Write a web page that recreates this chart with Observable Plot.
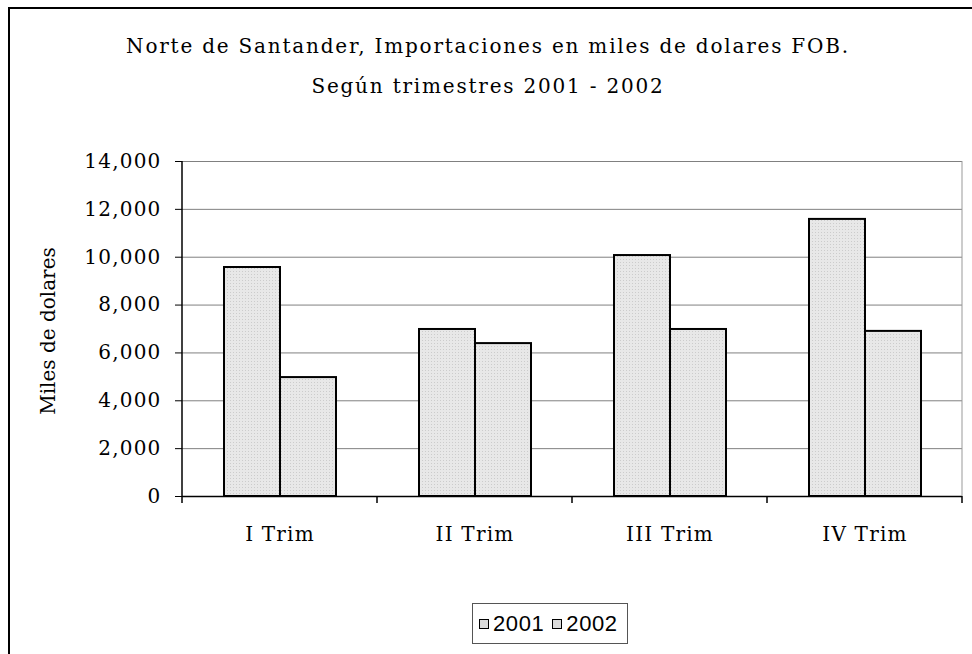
<!DOCTYPE html>
<html><head><meta charset="utf-8">
<script src="https://cdn.jsdelivr.net/npm/d3@7"></script>
<script src="https://cdn.jsdelivr.net/npm/@observablehq/plot@0.6"></script>
<style>
html,body{margin:0;padding:0;background:#fff;overflow:hidden;width:972px;height:654px}
#wrap{position:relative;width:972px;height:654px;overflow:hidden}
#border{position:absolute;left:8px;top:7px;width:1000px;height:700px;border-left:2px solid #000;border-top:2px solid #000}
.title{position:absolute;left:0;width:976px;text-align:center;font-family:"DejaVu Serif";font-size:20px;color:#000;white-space:nowrap;letter-spacing:1.8px}
#chart{position:absolute;left:0;top:0}
#ylabel{position:absolute;left:48px;top:331px;transform:translate(-50%,-50%) rotate(-90deg);font-family:"DejaVu Serif";font-size:20px;white-space:nowrap}
#legend{position:absolute;left:472px;top:603px;width:156px;height:41px;border:1px solid #555;box-sizing:border-box;display:flex;align-items:center;font-family:"Liberation Sans";font-size:22px;padding-left:6px}
.sw{display:inline-block;width:8px;height:8px;border:1.5px solid #000;background:#dcdcdc;margin-right:4px}
.lab{margin-right:8px;letter-spacing:0.6px}
</style></head>
<body>
<svg width="0" height="0" style="position:absolute">
  <defs>
    <pattern id="dots" width="3" height="3" patternUnits="userSpaceOnUse">
      <rect width="3" height="3" fill="#e8e8e8"></rect>
      <rect x="1" y="1" width="1" height="1" fill="#cccccc"></rect>
    </pattern>
  </defs>
</svg>
<div id="wrap">
  <div id="border"></div>
  <div class="title" style="top:34px">Norte de Santander, Importaciones en miles de dolares FOB.</div>
  <div class="title" style="top:74px">Según trimestres 2001 - 2002</div>
  <div id="chart"></div>
  <div id="ylabel">Miles de dolares</div>
  <div id="legend"><span class="sw"></span><span class="lab">2001</span><span class="sw"></span><span class="lab">2002</span></div>
</div>
<script>
const trimestres = ["I Trim", "II Trim", "III Trim", "IV Trim"];
const years = ["2001", "2002"];
const values2001 = [9570, 6980, 10070, 11580];
const values2002 = [4970, 6390, 6980, 6900];
const yTicks = [0, 2000, 4000, 6000, 8000, 10000, 12000, 14000];

const rows = [];
trimestres.forEach((t, i) => {
  rows.push({trim: t, year: years[0], value: values2001[i]});
  rows.push({trim: t, year: years[1], value: values2002[i]});
});

const chart = Plot.plot({
  width: 972, height: 560,
  marginLeft: 181, marginRight: 9, marginTop: 161, marginBottom: 64,
  style: {fontFamily: "DejaVu Serif", fontSize: "20px", letterSpacing: "1.2px", background: "transparent", color: "#000", overflow: "visible"},
  fx: {domain: trimestres, padding: 0, label: null},
  x: {domain: years, paddingInner: 0, paddingOuter: 0.715, axis: null},
  y: {domain: [0, 14000], axis: null},
  marks: [
    Plot.gridY(yTicks, {stroke: "#808080", strokeOpacity: 1, strokeWidth: 1}),
    Plot.barY(rows, {fx: "trim", x: "year", y: "value", fill: "url(#dots)", stroke: "#000", strokeWidth: 2}),
    Plot.ruleY([0], {stroke: "#000", strokeWidth: 1.5}),
    Plot.axisY(yTicks, {tickFormat: d3.format(","), tickSize: 7, tickPadding: 14, stroke: "#000", label: null}),
    Plot.axisFx({anchor: "bottom", tickSize: 0, tickPadding: 30, label: null})
  ]
});
document.getElementById("chart").appendChild(chart);

// axis line, category boundary ticks, plot-area right edge
const fx = chart.scale("fx");
const y = chart.scale("y");
const svg = d3.select(chart);
const y0 = y.apply(0), yTop = y.apply(14000);
const edges = trimestres.map(t => fx.apply(t));
edges.push(edges[edges.length - 1] + fx.step);
const g = svg.append("g").attr("stroke", "#000").attr("stroke-width", 1.5);
g.append("line").attr("x1", edges[0]).attr("x2", edges[0]).attr("y1", yTop).attr("y2", y0 + 7);
edges.slice(1).forEach(e => {
  g.append("line").attr("x1", e).attr("x2", e).attr("y1", y0).attr("y2", y0 + 7);
});
svg.append("line").attr("x1", edges[edges.length - 1]).attr("x2", edges[edges.length - 1])
  .attr("y1", yTop).attr("y2", y0).attr("stroke", "#999").attr("stroke-width", 1);
</script>
</body></html>
